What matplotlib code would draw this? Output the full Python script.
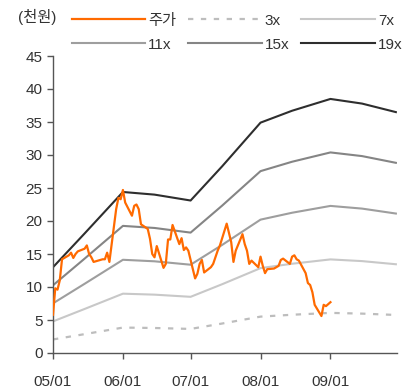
import pandas as pd
import matplotlib
matplotlib.use("Agg")
import matplotlib.pyplot as plt
import matplotlib.dates as mdates

plt.rcParams['font.family'] = ['Liberation Sans', 'Noto Sans CJK KR']

# daily close (thousand won), business days 2017-05-01 .. 2017-09-01
price_dates = pd.bdate_range("2017-05-01", "2017-09-01")
price = [
    # May
    5.8, 9.8, 9.6, 11.0, 14.2, 14.8, 15.2, 14.4, 15.0, 15.4, 15.8, 16.3,
    15.0, 14.5, 13.8, 14.1, 14.2, 14.2, 15.2, 13.8, 21.8, 23.5, 23.3,
    # June
    24.7, 22.8, 20.8, 22.3, 22.5, 21.8, 19.5, 18.8, 17.3, 15.0, 14.5,
    16.2, 12.9, 13.5, 17.2, 17.2, 19.4, 16.5, 17.4, 15.6, 16.0, 15.5,
    # July
    11.3, 12.0, 13.5, 14.1, 12.2, 13.0, 13.5, 14.5, 15.5, 16.3, 19.6,
    18.2, 16.8, 13.8, 15.5, 18.0, 16.5, 15.5, 13.5, 14.0, 13.0,
    # August
    14.6, 13.2, 12.1, 12.7, 12.8, 13.0, 13.2, 14.1, 14.3, 13.5, 14.6,
    14.8, 14.2, 14.0, 12.1, 10.6, 10.3, 9.2, 7.3, 5.6, 7.3, 7.1, 7.4,
    # September
    7.7,
]

# 12M forward EPS (thousand won) used for the PER bands
eps_dates = pd.to_datetime([
    "2017-05-01", "2017-05-15", "2017-06-01", "2017-06-15", "2017-07-01",
    "2017-07-15", "2017-08-01", "2017-08-15", "2017-09-01", "2017-09-15",
    "2017-09-30",
])
eps = [0.684, 0.953, 1.284, 1.263, 1.216, 1.489, 1.837, 1.932, 2.026, 1.989, 1.921]

multiples = [3, 7, 11, 15, 19]
band_labels = ["3x", "7x", "11x", "15x", "19x"]
band_colors = ["#BDBDBD", "#C8C8C8", "#9E9E9E", "#858585", "#2E2E2E"]

fig = plt.figure(figsize=(4.16, 3.90), dpi=100)
ax = fig.add_axes([53 / 416, 37 / 390, 344 / 416, 297 / 390])

handles = {}
for m, lab, col in zip(multiples, band_labels, band_colors):
    vals = [m * e for e in eps]
    if m == 3:
        ln, = ax.plot(eps_dates, vals, color=col, lw=1.6, dashes=(2.4, 3.4))
    else:
        ln, = ax.plot(eps_dates, vals, color=col, lw=1.5)
    handles[lab] = ln

ln, = ax.plot(price_dates, price, color="#FF6A00", lw=1.6, zorder=5)
handles["주가"] = ln

ax.set_xlim(pd.Timestamp("2017-05-01"), pd.Timestamp("2017-09-30 12:00"))
ax.set_ylim(0, 45)
ax.set_yticks(range(0, 46, 5))
ax.set_xticks(pd.to_datetime(["2017-05-01", "2017-06-01", "2017-07-01",
                              "2017-08-01", "2017-09-01"]))
ax.xaxis.set_major_formatter(mdates.DateFormatter("%m/%d"))

for s in ["top", "right"]:
    ax.spines[s].set_visible(False)
for s in ["left", "bottom"]:
    ax.spines[s].set_color("#555555")
    ax.spines[s].set_linewidth(1.0)
ax.tick_params(axis="both", colors="#555555", labelcolor="#333333",
               labelsize=11, length=4, width=1.0)
ax.tick_params(axis="x", pad=12)

# legend filled column-first, so interleave the two rows
order = ["주가", "11x", "3x", "15x", "7x", "19x"]
fig.legend([handles[k] for k in order], order, loc="upper left",
           bbox_to_anchor=(64 / 416, 1 - 6 / 390), ncol=3, frameon=False,
           fontsize=11, handlelength=4.8, handletextpad=0.2,
           columnspacing=0.8, labelspacing=0.65, borderpad=0,
           labelcolor="#333333")

fig.text(18 / 416, 1 - 17 / 390, "(천원)", fontsize=11, color="#333333",
         va="center", ha="left")

fig.savefig("out.png", dpi=100)
